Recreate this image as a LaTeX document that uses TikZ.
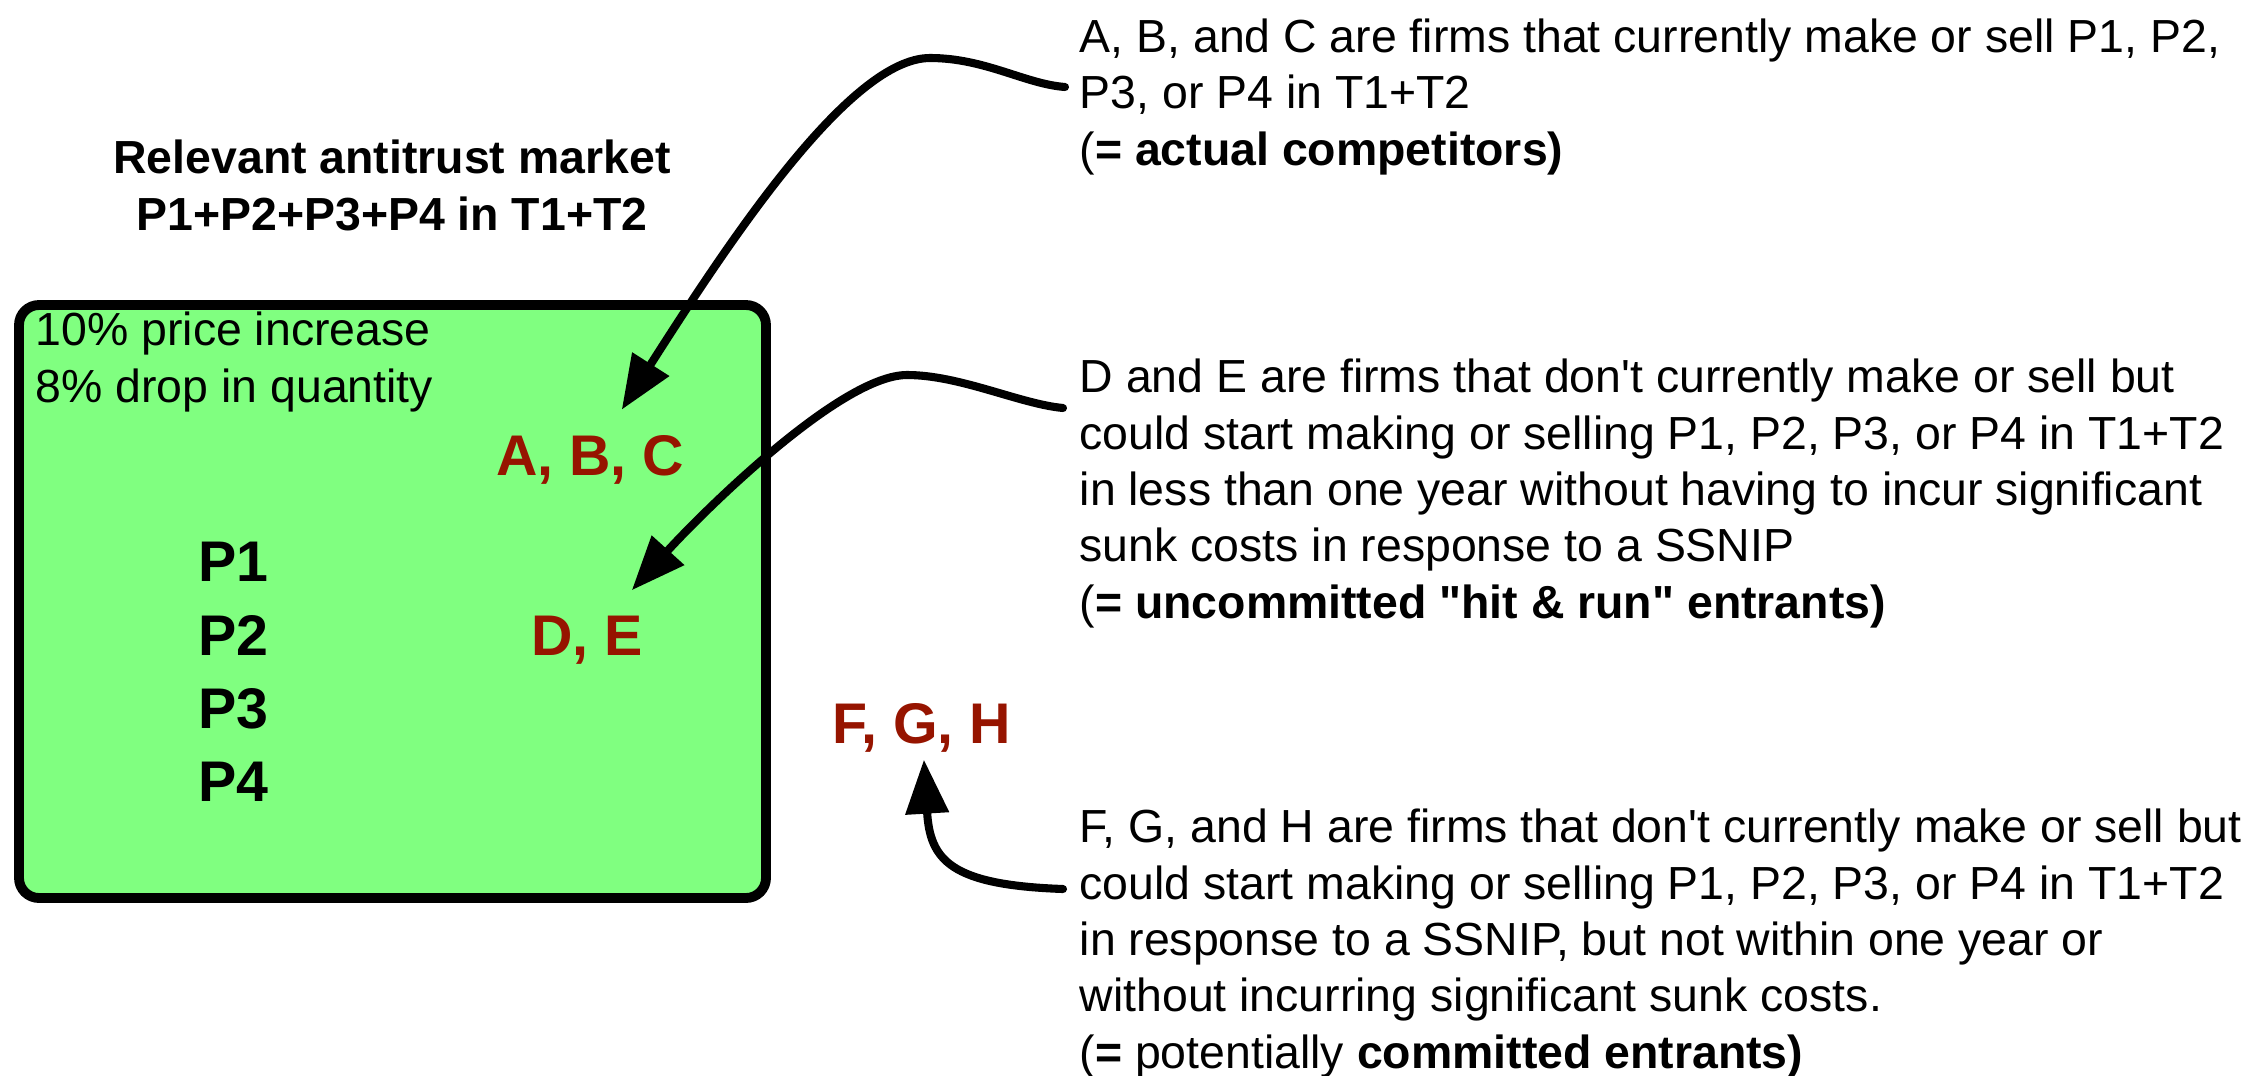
\documentclass[tikz,border=0pt]{standalone}
\usepackage{fontspec}
\setmainfont{Liberation Sans}
\usetikzlibrary{arrows.meta}
\definecolor{mktgreen}{RGB}{128,255,128}
\definecolor{firmred}{RGB}{150,20,0}

\begin{document}
\begin{tikzpicture}[
x=0.01cm, y=-0.01cm,
body/.style={anchor=base west,inner sep=0pt,align=left,font=\fontsize{13.2}{16}\selectfont},
firm/.style={anchor=base,inner sep=7pt,text=firmred,font=\fontsize{16.3}{19}\selectfont\bfseries},
prod/.style={anchor=base west,inner sep=0pt,font=\fontsize{16.3}{19}\selectfont\bfseries},
link/.style={-{Triangle[length=5.4mm,width=4.2mm]},line width=2.3pt,line cap=round}
]
\useasboundingbox (0,0) rectangle (2253,1075);

% market box
\draw[line width=2.8pt,fill=mktgreen,rounded corners=0.2cm] (19,305) rectangle (766,898);

% base anchor = last line
\node[anchor=base,inner sep=0pt,align=center,font=\fontsize{13.2}{16.2}\selectfont\bfseries] (title) at (392,230) {Relevant antitrust market\\P1+P2+P3+P4 in T1+T2};
\node[body] (shock) at (35,402) {10\% price increase\\8\% drop in quantity};

\node[prod] (p1) at (198,581) {P1};
\node[prod] (p2) at (198,655) {P2};
\node[prod] (p3) at (198,728) {P3};
\node[prod] (p4) at (198,801) {P4};

\node[firm] (abc) at (590,475) {A, B, C};
\node[firm] (de) at (587,655) {D, E};
\node[firm,inner sep=2pt] (fgh) at (922,743) {F, G, H};

% explanations
\node[body] (actual) at (1079,165) {A, B, and C are firms that currently make or sell P1, P2,\\P3, or P4 in T1+T2\\(\textbf{= actual competitors)}};
\node[body] (hitrun) at (1079,618) {D and E are firms that don\textquotesingle t currently make or sell but\\could start making or selling P1, P2, P3, or P4 in T1+T2\\in less than one year without having to incur significant\\sunk costs in response to a SSNIP\\(\textbf{= uncommitted \textquotedbl hit \& run\textquotedbl{} entrants)}};
\node[body] (committed) at (1079,1068) {F, G, and H are firms that don\textquotesingle t currently make or sell but\\could start making or selling P1, P2, P3, or P4 in T1+T2\\in response to a SSNIP, but not within one year or\\without incurring significant sunk costs.\\(\textbf{=} potentially \textbf{committed entrants)}};

\coordinate (abcfrom) at (1065,87);
\coordinate (defrom) at (1063,408);
\coordinate (fghfrom) at (1063,889);

\draw[link] (abcfrom) .. controls (1025,84) and (985,58) .. (930,58) .. controls (850,58) and (730,240) .. (abc);
\draw[link] (defrom) .. controls (1020,404) and (960,375) .. (907,375) .. controls (840,375) and (700,515) .. (de);
\draw[link] (fghfrom) .. controls (950,885) and (930,860) .. (fgh);
\end{tikzpicture}
\end{document}
